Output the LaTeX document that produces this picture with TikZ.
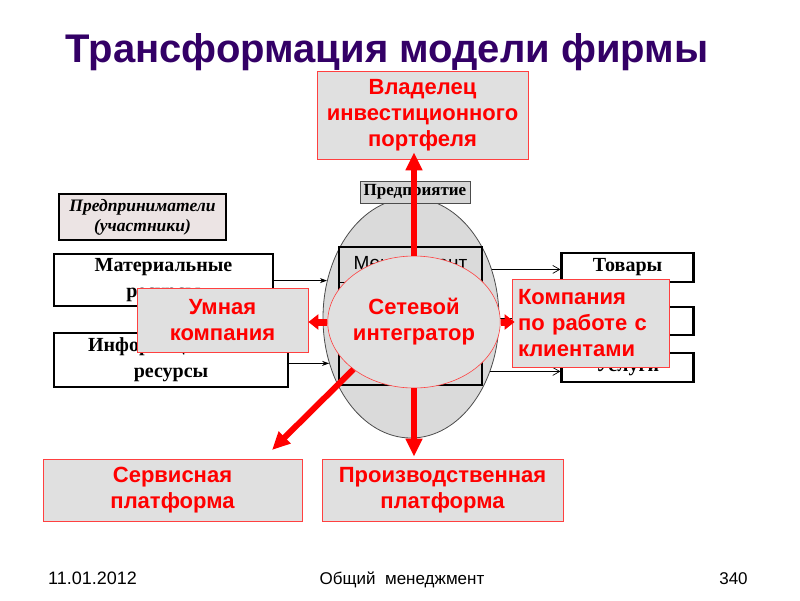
\documentclass[tikz,border=0pt]{standalone}
\usepackage{fontspec}
\setmainfont{Liberation Serif}
\setsansfont{Liberation Sans}
\usetikzlibrary{shapes.geometric,arrows.meta}

\definecolor{titlepurple}{RGB}{51,0,102}
\definecolor{boxgray}{RGB}{224,224,224}
\definecolor{firmgray}{RGB}{218,218,218}
\definecolor{pinkgray}{RGB}{236,228,228}
\definecolor{labelgray}{RGB}{214,214,214}

\begin{document}
\begin{tikzpicture}[x=1pt, y=-1pt,
  redbox/.style={draw=red!75, line width=0.8pt, fill=boxgray, text=red, inner sep=0pt,
    font=\sffamily\bfseries\fontsize{22}{26}\selectfont, align=center},
  resbox/.style={draw, line width=2.2pt, fill=white, inner sep=0pt,
    font=\bfseries\fontsize{20}{26}\selectfont, align=center},
  inarrow/.style={line width=0.7pt, -{Stealth[length=7pt, width=5pt]}},
  outarrow/.style={line width=0.7pt, -{Straight Barb[length=7pt, width=8pt]}},
  bigarrow/.style={red, line width=6pt, -{Triangle[length=18pt, width=16pt]}},
  smallarrow/.style={red, line width=7pt, -{Triangle[length=10pt, width=15pt]}}]

\useasboundingbox (0,0) rectangle (800,600);

% Title
\node[anchor=base, text=titlepurple, font=\sffamily\bfseries\fontsize{40}{44}\selectfont] (title) at (387,62) {Трансформация модели фирмы};

% Entrepreneurs
\node[draw, line width=2.2pt, fill=pinkgray, minimum width=167, minimum height=46, inner sep=0pt,
  align=center, font=\bfseries\itshape\fontsize{17.5}{20}\selectfont] (owners) at (142.5,217) {Предприниматели\\(участники)};

% The firm
\node[ellipse, draw=black!70, line width=0.8pt, fill=firmgray, minimum width=176, minimum height=240] (firm) at (411,318) {};
\node[draw=black!70, line width=0.6pt, fill=labelgray, minimum width=110, minimum height=22, inner sep=0pt,
  font=\bfseries\fontsize{17}{18}\selectfont] (firmlabel) at (415,192) {Предприятие};
\node[draw, line width=2.5pt, minimum width=143, minimum height=138] (mgmt) at (410.5,316) {};
\draw[line width=0.8pt] (339,282) -- (482,282);
\node[font=\sffamily\fontsize{19}{22}\selectfont] (mgmttext) at (410.5,265) {Менеджмент};

% Resources in
\node[resbox, minimum width=219, minimum height=52] (mat) at (163.5,280) {Материальные\\ресурсы};
\node[resbox, minimum width=234, minimum height=54] (info) at (171,360) {Информационные\\ресурсы};
\draw[inarrow] (firm.156 -| mat.east) -- (firm.156);
\draw[inarrow] (firm.209 -| info.east) -- (firm.209);

% Results out
\node[resbox, minimum width=132, minimum height=29] (goods) at (627.5,267.5) {Товары};
\node[resbox, minimum width=132, minimum height=28] (works) at (627.5,321) {};
\node[resbox, minimum width=132, minimum height=29] (services) at (627.5,367.5) {Услуги};
\draw[outarrow] (firm.31) -- (firm.31 -| goods.west);
\draw[outarrow] (firm.0) -- (firm.0 -| works.west);
\draw[outarrow] (firm.326) -- (firm.326 -| services.west);

% Network integrator
\node[ellipse, draw=red!75, line width=0.6pt, fill=boxgray, minimum width=158, minimum height=132, inner sep=0pt,
  text=red, align=center, font=\sffamily\bfseries\fontsize{22}{26}\selectfont] (net) at (414,322) {Сетевой\\интегратор};

% New roles
\node[redbox, minimum width=211, minimum height=88] (owner) at (422.5,115) {Владелец\\инвестиционного\\портфеля};
\node[redbox, minimum width=171, minimum height=64] (smart) at (222.5,320) {Умная\\компания};
\node[redbox, minimum width=157, minimum height=88, text width=145, align=left] (client) at (590.5,323) {Компания\\по работе с\\клиентами};
\node[redbox, minimum width=259, minimum height=62] (service) at (172.5,490) {Сервисная\\платформа};
\node[redbox, minimum width=241, minimum height=62] (prod) at (442.5,490) {Производственная\\платформа};
\coordinate (servicetip) at (272,450);

% Red arrows
\draw[bigarrow, shorten >=-7pt] (net.north) -- (net.north |- owner.south);
\draw[bigarrow, shorten >=2pt] (net.south) -- (net.south |- prod.north);
\draw[bigarrow] (net.218) -- (servicetip);
\draw[smallarrow] (net.west) -- (net.west -| smart.east);
\draw[smallarrow, shorten >=-3pt] (net.east) -- (net.east -| client.west);

% Footer
\node[anchor=base, font=\sffamily\fontsize{18}{20}\selectfont] (date) at (92.5,584) {11.01.2012};
\node[anchor=base, font=\sffamily\fontsize{17}{20}\selectfont] (course) at (402,584) {Общий\ \ менеджмент};
\node[anchor=base, font=\sffamily\fontsize{17}{20}\selectfont] (page) at (733.5,584) {340};
\end{tikzpicture}
\end{document}
